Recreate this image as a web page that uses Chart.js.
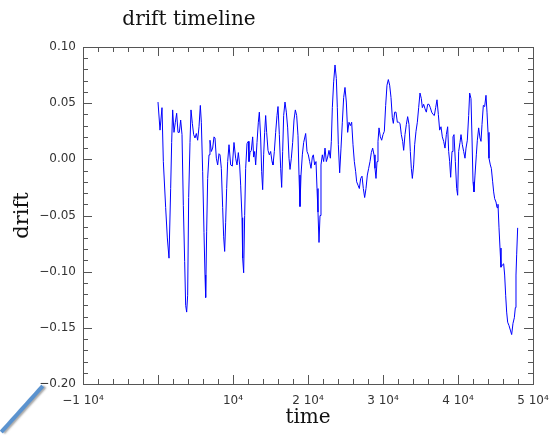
<!DOCTYPE html>
<html>
<head>
<meta charset="utf-8">
<script src="https://cdn.jsdelivr.net/npm/chart.js@4"></script>
<style>
  body { margin: 0; background: #fff; }
  #wrap { position: relative; width: 550px; height: 435px; }
  /* little pen stroke in the bottom-left corner of the original */
  #pen { position: absolute; left: -9px; top: 407px; width: 62px; height: 4px;
         background: #5b93cf; transform: rotate(-48deg); transform-origin: 50% 50%;
         box-shadow: 1px 2px 2px rgba(0,0,0,0.35); }
</style>
</head>
<body>
<div id="wrap">
  <canvas id="driftChart" width="550" height="435"></canvas>
  <div id="pen"></div>
</div>
<script>
// 1. Data (time, drift)
const times = [
  0, 267, 533, 711, 1022, 1244, 1467, 1689, 1822, 1956, 2133, 2311, 2489, 2667, 2844, 3022, 3200,
  3378, 3556, 3689, 3822, 3956, 4089, 4267, 4400, 4578, 4756, 4933, 5111, 5289, 5467, 5644, 5778,
  5956, 6133, 6267, 6356, 6489, 6622, 6800, 6933, 7111, 7289, 7467, 7600, 7778, 7956, 8133, 8267,
  8444, 8622, 8756, 8889, 9022, 9156, 9289, 9467,
  9689, 9911, 10133, 10356, 10533, 10711, 10889, 11022, 11200, 11289, 11422, 11556, 11689, 11867,
  12044, 12133, 12267, 12444, 12622, 12756, 12889, 13022, 13200, 13378, 13511, 13689, 13822, 13956,
  14089, 14222, 14356, 14489, 14667, 14844, 15022, 15200, 15333, 15511, 15689, 15867, 16000, 16178,
  16356, 16489, 16622, 16756, 16933, 17111, 17289, 17467, 17600, 17778, 17956, 18133, 18311, 18489,
  18667, 18800, 18933, 19067, 19244, 19422,
  19689, 19867, 20044, 20222, 20400, 20578, 20711, 20889, 21067, 21200, 21333, 21467, 21600, 21733,
  21911, 22089, 22267, 22444, 22622, 22800, 22978, 23111, 23244, 23422, 23600, 23778, 23911, 24044,
  24222, 24400, 24578, 24756, 24933, 25111, 25289, 25467, 25644, 25822, 26000, 26178, 26356, 26489,
  26667, 26844, 27022, 27200, 27378, 27556, 27733, 27911, 28089, 28267, 28444, 28622, 28800, 28933,
  29067, 29200, 29333, 29467,
  29644, 29822, 30000, 30178, 30356, 30533, 30711, 30889, 31067, 31244, 31378, 31556, 31733, 31911,
  32089, 32267, 32444, 32622, 32756, 32933, 33111, 33289, 33467, 33644, 33778, 33911, 34089, 34222,
  34400, 34578, 34756, 34933, 35111, 35244, 35422, 35600, 35778, 35956, 36133, 36311, 36489, 36667,
  36844, 37022, 37200, 37378, 37556, 37733, 37911, 38089, 38267, 38444, 38622, 38756, 38889, 39022,
  39200, 39333, 39467,
  39644, 39822, 39956, 40089, 40267, 40400, 40578, 40756, 40933, 41067, 41244, 41422, 41556, 41733,
  41867, 42000, 42133, 42267, 42444, 42578, 42756, 42933, 43067, 43200, 43378, 43556, 43733, 43867,
  44000, 44133, 44311, 44444, 44622, 44756, 44889, 45067, 45200, 45333, 45467, 45600, 45733, 45911,
  46089, 46222, 46356, 46489, 46622, 46800, 46978, 47156, 47333, 47511, 47644, 47733, 47822, 47956
];

const drift = [
  0.051, 0.026, 0.046, -0.002, -0.043, -0.070, -0.088, -0.026, 0.015, 0.044, 0.024, 0.033, 0.041, 0.024, 0.024, 0.035, 0.022,
  -0.041, -0.091, -0.130, -0.136, -0.121, -0.034, 0.015, 0.044, 0.032, 0.022, 0.019, 0.023, 0.017, 0.029, 0.048, 0.033,
  -0.011, -0.065, -0.103, -0.123, -0.064, -0.017, 0.004, 0.017, 0.007, 0.010, 0.020, 0.019, 0.001, -0.005, 0.005, 0.004,
  -0.008, -0.043, -0.069, -0.082, -0.056, -0.026, -0.002, 0.013,
  -0.005, -0.006, 0.015, 0.001, -0.005, 0.006, -0.005, -0.023, -0.052, -0.088, -0.101, -0.050, -0.008, 0.014,
  0.016, -0.002, 0.006, 0.008, 0.020, 0.002, 0.007, -0.005, 0.015, 0.033, 0.042, 0.019, -0.011, -0.027,
  0.004, 0.024, 0.039, 0.024, 0.008, 0.004, 0.007, -0.002, -0.005, 0.007, 0.024, 0.039, 0.047, 0.022,
  -0.008, -0.025, 0.007, 0.039, 0.051, 0.042, 0.028, 0.001, -0.009, 0.001, 0.015, 0.035, 0.044, 0.039,
  0.021, -0.014, -0.042, -0.014, 0.004, 0.015,
  0.023, 0.007, 0.004, -0.002, -0.008, 0.002, 0.004, -0.005, -0.002, -0.026, -0.047, -0.074, -0.050, -0.005,
  0.004, -0.002, 0.010, -0.002, 0.002, 0.008, 0.001, 0.016, 0.046, 0.069, 0.084, 0.072, 0.046, 0.013,
  -0.012, 0.010, 0.033, 0.055, 0.064, 0.051, 0.024, 0.033, 0.030, 0.033, 0.013, -0.002, -0.011, -0.020,
  -0.023, -0.026, -0.017, -0.015, -0.026, -0.034, -0.026, -0.014, -0.008, -0.002, 0.006, 0.010, 0.004, -0.008,
  -0.017, -0.002, 0.016, 0.028,
  0.020, 0.017, 0.022, 0.025, 0.048, 0.066, 0.071, 0.066, 0.055, 0.037, 0.032, 0.042, 0.042, 0.033,
  0.033, 0.032, 0.022, 0.016, 0.008, 0.022, 0.031, 0.038, 0.031, 0.007, -0.008, -0.017, -0.005, 0.013,
  0.025, 0.033, 0.046, 0.059, 0.054, 0.046, 0.049, 0.045, 0.042, 0.049, 0.049, 0.046, 0.042, 0.040,
  0.039, 0.046, 0.053, 0.040, 0.026, 0.029, 0.020, 0.016, 0.010, 0.022, 0.029, 0.007, -0.002, -0.016,
  0.007, 0.020, 0.022,
  -0.002, -0.026, -0.032, 0.007, 0.015, 0.022, 0.013, 0.007, 0.001, 0.010, 0.017, 0.039, 0.059, 0.054,
  0.019, -0.020, -0.029, -0.014, 0.004, 0.017, 0.028, 0.019, 0.016, 0.031, 0.048, 0.047, 0.057, 0.042,
  0.024, 0.001, -0.005, -0.008, -0.020, -0.029, -0.035, -0.038, -0.043, -0.040, -0.061, -0.079, -0.096, -0.094,
  -0.093, -0.103, -0.121, -0.136, -0.145, -0.148, -0.152, -0.156, -0.146, -0.141, -0.132, -0.103, -0.085, -0.061
];

// 2. Axis ticks and labels
const xTicks = [-10000, 0, 10000, 20000, 30000, 40000, 50000];
const xTickLabels = ['\u22121 10\u2074', '', '10\u2074', '2 10\u2074', '3 10\u2074', '4 10\u2074', '5 10\u2074'];
const yTicks = [-0.20, -0.15, -0.10, -0.05, 0.00, 0.05, 0.10];
const yTickLabels = ['\u22120.20', '\u22120.15', '\u22120.10', '\u22120.05', '0.00', '0.05', '0.10'];

const chartTitle = 'drift timeline';
const xTitle = 'time';
const yTitle = 'drift';

// frame + inward ticks on all four sides, like the original plot
const frameTicks = {
  id: 'frameTicks',
  afterDraw(chart) {
    const { ctx, chartArea: a, scales: { x, y } } = chart;
    ctx.save();
    ctx.strokeStyle = '#555';
    ctx.lineWidth = 1;
    ctx.strokeRect(a.left + 0.5, a.top + 0.5, a.right - a.left, a.bottom - a.top);
    ctx.beginPath();
    // x: minor every 2000, major every 10000
    for (let i = 0; i <= 30; i++) {
      const px = Math.round(x.getPixelForValue(-10000 + i * 2000)) + 0.5;
      const len = i % 5 === 0 ? 9 : 5;
      ctx.moveTo(px, a.bottom); ctx.lineTo(px, a.bottom - len);
      ctx.moveTo(px, a.top); ctx.lineTo(px, a.top + len);
    }
    // y: minor every 0.01, major every 0.05
    for (let i = 0; i <= 30; i++) {
      const py = Math.round(y.getPixelForValue(-0.2 + i * 0.01)) + 0.5;
      const len = i % 5 === 0 ? 9 : 5;
      ctx.moveTo(a.left, py); ctx.lineTo(a.left + len, py);
      ctx.moveTo(a.right, py); ctx.lineTo(a.right - len, py);
    }
    ctx.stroke();

    // title sits left of the plot centre in the original
    ctx.fillStyle = '#111';
    ctx.font = '20px "DejaVu Serif"';
    ctx.textAlign = 'center';
    ctx.textBaseline = 'middle';
    ctx.fillText(chartTitle, 189, 20);
    ctx.restore();
  }
};

const ctx = document.getElementById('driftChart').getContext('2d');
new Chart(ctx, {
  type: 'line',
  data: {
    datasets: [{
      data: times.map((t, i) => ({ x: t, y: drift[i] })),
      borderColor: '#0000ff',
      borderWidth: 1,
      pointRadius: 0,
      tension: 0,
      fill: false
    }]
  },
  options: {
    responsive: false,
    animation: false,
    layout: { padding: { top: 47, right: 17, left: 0, bottom: 0 } },
    plugins: { legend: { display: false }, tooltip: { enabled: false } },
    scales: {
      x: {
        type: 'linear',
        min: -10000,
        max: 50000,
        // keep the plot box fixed, let the end labels hang over
        afterFit: s => { s.height = 51; s.paddingLeft = 0; s.paddingRight = 0; },
        afterBuildTicks: s => { s.ticks = xTicks.map(v => ({ value: v })); },
        grid: { display: false, drawTicks: false },
        border: { display: false },
        ticks: {
          padding: 10,
          color: '#333',
          font: { family: 'DejaVu Sans', size: 12 },
          maxRotation: 0,
          autoSkip: false,
          callback: v => xTickLabels[xTicks.indexOf(v)]
        },
        title: {
          display: true, text: xTitle, color: '#111',
          font: { family: 'DejaVu Serif', size: 20 },
          padding: { top: 0, bottom: 5 }
        }
      },
      y: {
        min: -0.2,
        max: 0.1,
        afterFit: s => { s.width = 83; s.paddingTop = 0; s.paddingBottom = 0; },
        afterBuildTicks: s => { s.ticks = yTicks.map(v => ({ value: v })); },
        grid: { display: false, drawTicks: false },
        border: { display: false },
        ticks: {
          padding: 7,
          color: '#333',
          font: { family: 'DejaVu Sans', size: 12 },
          autoSkip: false,
          callback: v => yTickLabels[yTicks.findIndex(t => Math.abs(t - v) < 1e-9)]
        },
        title: {
          display: true, text: yTitle, color: '#111',
          font: { family: 'DejaVu Serif', size: 21 },
          padding: { top: 10, bottom: 0 }
        }
      }
    }
  },
  plugins: [frameTicks]
});
</script>
</body>
</html>
